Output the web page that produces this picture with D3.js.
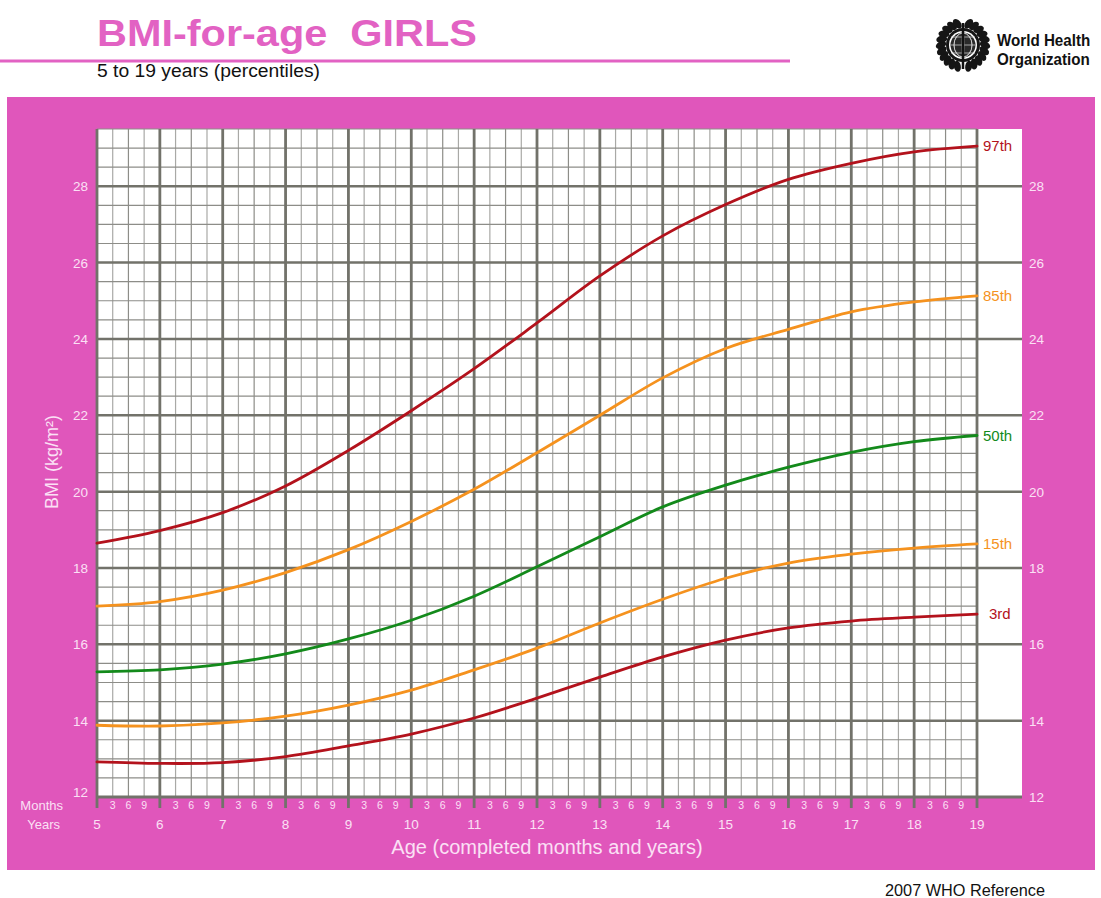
<!DOCTYPE html>
<html>
<head>
<meta charset="utf-8">
<script src="https://cdn.jsdelivr.net/npm/d3@7"></script>
<style>
  body { margin: 0; background: #fff; }
  svg { display: block; font-family: "Liberation Sans", Arial, sans-serif; }
</style>
</head>
<body>
<div id="chart"></div>
<script>
// =======================
// Data
// =======================
const ages = [5, 6, 7, 8, 9, 10, 11, 12, 13, 14, 15, 16, 17, 18, 19];
const p97 = [18.65, 18.98, 19.45, 20.15, 21.08, 22.12, 23.22, 24.42, 25.65, 26.70, 27.52, 28.18, 28.60, 28.90, 29.05];
const p85 = [17.00, 17.12, 17.42, 17.88, 18.48, 19.22, 20.06, 21.02, 22.00, 22.98, 23.75, 24.25, 24.71, 24.97, 25.13];
const p50 = [15.28, 15.33, 15.48, 15.75, 16.14, 16.63, 17.26, 18.03, 18.82, 19.60, 20.17, 20.64, 21.03, 21.31, 21.47];
const p15 = [13.88, 13.86, 13.94, 14.12, 14.41, 14.80, 15.33, 15.90, 16.56, 17.18, 17.73, 18.13, 18.36, 18.52, 18.63];
const p3  = [12.92, 12.88, 12.90, 13.06, 13.34, 13.65, 14.07, 14.59, 15.14, 15.67, 16.11, 16.43, 16.61, 16.71, 16.79];

const curveNames = ["97th", "85th", "50th", "15th", "3rd"];
const curveValues = [p97, p85, p50, p15, p3];
const curveColors = ["#b3121c", "#f5921e", "#138a1b", "#f5921e", "#b3121c"];

const bmiTicks = [12, 14, 16, 18, 20, 22, 24, 26, 28];
const monthTicks = [3, 6, 9];

// =======================
// Layout
// =======================
const W = 1101, H = 898;
const pink = "#e056bb";
const lightText = "#fbe0f5";

const svg = d3.select("#chart").append("svg")
    .attr("width", W)
    .attr("height", H);

const x = d3.scaleLinear().domain([5, 19]).range([97, 977]);
const y = d3.scaleLinear().domain([12, 29.5]).range([797, 129]);

// =======================
// Header
// =======================
svg.append("text")
    .attr("x", 97).attr("y", 46)
    .attr("font-size", 36).attr("font-weight", "bold")
    .attr("fill", "#e262c3")
    .attr("textLength", 380).attr("lengthAdjust", "spacingAndGlyphs")
    .attr("xml:space", "preserve")
    .text("BMI-for-age  GIRLS");

svg.append("rect")
    .attr("x", 0).attr("y", 59.5).attr("width", 790).attr("height", 3)
    .attr("fill", "#e262c3");

svg.append("text")
    .attr("x", 97).attr("y", 77)
    .attr("font-size", 18).attr("fill", "#111")
    .attr("textLength", 223).attr("lengthAdjust", "spacingAndGlyphs")
    .text("5 to 19 years (percentiles)");

// WHO logo (simplified emblem + wordmark)
const logo = svg.append("g").attr("transform", "translate(963,45)");
d3.range(-75, 76, 15).forEach(a => {
    [-1, 1].forEach(side => {
        const ang = (90 - side * (90 + a)) * Math.PI / 180;
        const r = 22;
        const cx = r * Math.cos(ang), cy = r * Math.sin(ang);
        logo.append("ellipse")
            .attr("cx", cx).attr("cy", cy)
            .attr("rx", 3.5).attr("ry", 5.5)
            .attr("transform", `rotate(${ang * 180 / Math.PI + 90 + side * 25},${cx},${cy})`)
            .attr("fill", "#151515");
    });
});
logo.append("circle").attr("r", 17).attr("fill", "#151515");
logo.append("circle").attr("r", 14).attr("fill", "#fff");
logo.append("circle").attr("r", 12.5).attr("fill", "#2a2a2a");
[-8, 0, 8].forEach(o => {
    logo.append("ellipse").attr("rx", Math.abs(o) + 1).attr("ry", 12)
        .attr("fill", "none").attr("stroke", "#ddd").attr("stroke-width", 0.7);
    logo.append("line").attr("x1", -12).attr("x2", 12).attr("y1", o).attr("y2", o)
        .attr("stroke", "#ddd").attr("stroke-width", 0.7);
});
logo.append("line").attr("x1", 0).attr("x2", 0).attr("y1", -22).attr("y2", 24)
    .attr("stroke", "#111").attr("stroke-width", 2.5);

// wordmark: one text, two lines, narrowed horizontally
const word = svg.append("text")
    .attr("transform", "translate(997,0) scale(0.92,1)")
    .attr("font-size", 16.5).attr("font-weight", "bold").attr("fill", "#111");
word.append("tspan").attr("x", 0).attr("y", 46).text("World Health");
word.append("tspan").attr("x", 0).attr("y", 65).text("Organization");

// =======================
// Pink panel & white plot area
// =======================
svg.append("rect")
    .attr("x", 7).attr("y", 97).attr("width", 1088).attr("height", 773)
    .attr("fill", pink);

svg.append("rect")
    .attr("x", x(5)).attr("y", y(29.5))
    .attr("width", 1022 - x(5)).attr("height", y(12) - y(29.5))
    .attr("fill", "#fff");

// =======================
// Grid
// =======================
const grid = svg.append("g");
const minorX = d3.range(5, 19.001, 0.25).filter(v => Math.abs(v - Math.round(v)) > 1e-6);
const minorY = d3.range(12.5, 29.501, 0.5).filter(v => !bmiTicks.includes(v));

grid.selectAll(".vminor").data(minorX).enter().append("line")
    .attr("x1", d => x(d)).attr("x2", d => x(d))
    .attr("y1", y(29.5)).attr("y2", y(12))
    .attr("stroke", d => (Math.round(d * 4) % 2 === 0) ? "#8d8d88" : "#a9a9a6")
    .attr("stroke-width", 1.2);

grid.selectAll(".hminor").data(minorY).enter().append("line")
    .attr("x1", x(5)).attr("x2", x(19))
    .attr("y1", d => y(d)).attr("y2", d => y(d))
    .attr("stroke", "#8d8d88").attr("stroke-width", 1.2);

grid.selectAll(".hmajor").data(bmiTicks).enter().append("line")
    .attr("x1", x(5)).attr("x2", 1022)
    .attr("y1", d => y(d)).attr("y2", d => y(d))
    .attr("stroke", "#72726a").attr("stroke-width", d => d === 12 ? 3 : 2.5);

grid.selectAll(".vmajor").data(ages).enter().append("line")
    .attr("x1", d => x(d)).attr("x2", d => x(d))
    .attr("y1", y(29.5)).attr("y2", y(12) + 11)
    .attr("stroke", "#72726a").attr("stroke-width", 2.8);

// =======================
// Axis labels
// =======================
const labels = svg.append("g").attr("fill", lightText);

labels.selectAll(".yl").data(bmiTicks).enter().append("text")
    .attr("x", 88).attr("y", d => y(d) + (d === 12 ? 0 : 5))
    .attr("text-anchor", "end").attr("font-size", 13.5)
    .text(d => d);

labels.selectAll(".yr").data(bmiTicks).enter().append("text")
    .attr("x", 1029).attr("y", d => y(d) + 5)
    .attr("font-size", 13.5)
    .text(d => d);

const monthData = [];
ages.slice(0, -1).forEach(a => monthTicks.forEach(m => monthData.push({ a, m })));
labels.selectAll(".ml").data(monthData).enter().append("text")
    .attr("x", d => x(d.a + d.m / 12)).attr("y", 809)
    .attr("text-anchor", "middle").attr("font-size", 10.5)
    .text(d => d.m);

labels.selectAll(".al").data(ages).enter().append("text")
    .attr("x", d => x(d)).attr("y", 829)
    .attr("text-anchor", "middle").attr("font-size", 13.5)
    .text(d => d);

labels.append("text")
    .attr("x", 63).attr("y", 810).attr("text-anchor", "end")
    .attr("font-size", 13).text("Months");
labels.append("text")
    .attr("x", 60).attr("y", 829).attr("text-anchor", "end")
    .attr("font-size", 13).text("Years");

labels.append("text")
    .attr("x", 547).attr("y", 854).attr("text-anchor", "middle")
    .attr("font-size", 20).text("Age (completed months and years)");

labels.append("text")
    .attr("transform", "translate(58,462) rotate(-90)")
    .attr("text-anchor", "middle").attr("font-size", 18)
    .text("BMI (kg/m²)");

// =======================
// Percentile curves
// =======================
const line = d3.line()
    .x((d, i) => x(ages[i]))
    .y(d => y(d))
    .curve(d3.curveCatmullRom.alpha(0.5));

curveValues.forEach((vals, i) => {
    svg.append("path")
        .attr("d", line(vals))
        .attr("fill", "none")
        .attr("stroke", curveColors[i])
        .attr("stroke-width", 2.8)
        .attr("stroke-linecap", "round");

    svg.append("text")
        .attr("x", curveNames[i] === "3rd" ? 989 : 983)
        .attr("y", y(vals[vals.length - 1]))
        .attr("dy", "0.35em")
        .attr("font-size", 15)
        .attr("fill", curveColors[i])
        .text(curveNames[i]);
});

// Footer
svg.append("text")
    .attr("x", 885).attr("y", 896)
    .attr("font-size", 16).attr("fill", "#111")
    .attr("textLength", 160).attr("lengthAdjust", "spacingAndGlyphs")
    .text("2007 WHO Reference");
</script>
</body>
</html>
